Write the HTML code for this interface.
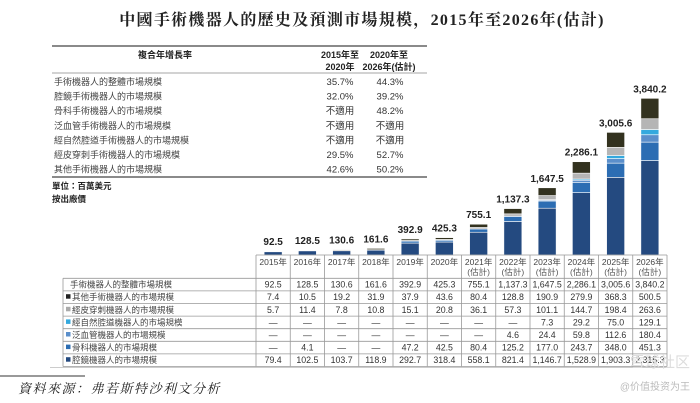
<!DOCTYPE html>
<html><head><meta charset="utf-8">
<style>
body{margin:0;background:#fff;}
svg{display:block;font-family:"Liberation Sans","Noto Sans CJK TC",sans-serif;}
</style></head>
<body>
<svg width="700" height="403" viewBox="0 0 700 403" xmlns="http://www.w3.org/2000/svg">
<text x="362" y="25" text-anchor="middle" font-family="'Liberation Serif','Noto Serif CJK SC',serif" font-weight="bold" font-size="16" letter-spacing="1.3" fill="#222">中國手術機器人的歷史及預測市場規模，2015年至2026年(估計)</text>
<g id="cagr"></g>
<g id="bars"></g>
<g id="tbl"></g>
<line x1="0" y1="376" x2="85" y2="376" stroke="#333" stroke-width="1"/>
<text x="18" y="393" font-family="'Liberation Serif','Noto Serif CJK SC',serif" font-style="italic" font-size="13" letter-spacing="1.5" fill="#222">資料來源：弗若斯特沙利文分析</text>
<text x="690" y="367" text-anchor="end" font-size="15" fill="#ddd">雪球社区</text>
<text x="690" y="390" text-anchor="end" font-size="10" fill="#bbb">@价值投资为王</text>
</svg>
<script>
const years=["2015年","2016年","2017年","2018年","2019年","2020年","2021年","2022年","2023年","2024年","2025年","2026年"];
const estimated=[0,0,0,0,0,0,1,1,1,1,1,1];
const totals=[92.5,128.5,130.6,161.6,392.9,425.3,755.1,1137.3,1647.5,2286.1,3005.6,3840.2];
const laparoscopic=[79.4,102.5,103.7,118.9,292.7,318.4,558.1,821.4,1146.7,1528.9,1903.3,2315.3];
const orthopedic=[null,4.1,null,null,47.2,42.5,80.4,125.2,177.0,243.7,348.0,451.3];
const vascular=[null,null,null,null,null,null,null,4.6,24.4,59.8,112.6,180.4];
const natural=[null,null,null,null,null,null,null,null,7.3,29.2,75.0,129.1];
const percutaneous=[5.7,11.4,7.8,10.8,15.1,20.8,36.1,57.3,101.1,144.7,198.4,263.6];
const others=[7.4,10.5,19.2,31.9,37.9,43.6,80.4,128.8,190.9,279.9,368.3,500.5];
const cagrRows=["手術機器人的整體市場規模","腔鏡手術機器人的市場規模","骨科手術機器人的市場規模","泛血管手術機器人的市場規模","經自然腔道手術機器人的市場規模","經皮穿刺手術機器人的市場規模","其他手術機器人的市場規模"];
const cagr1=["35.7%","32.0%","不適用","不適用","不適用","29.5%","42.6%"];
const cagr2=["44.3%","39.2%","48.2%","不適用","不適用","52.7%","50.2%"];

const NS="http://www.w3.org/2000/svg";
function mk(p,t,a,txt){const e=document.createElementNS(NS,t);for(const k in a)e.setAttribute(k,a[k]);if(txt!=null)e.textContent=txt;p.appendChild(e);return e;}
const X0=256,CW=34.25,BASE=255,K=0.0408,BW=18;
const xc=i=>X0+CW*(i+0.5);
const yv=v=>BASE-v*K;

// CAGR table
const cg=document.getElementById('cagr');
mk(cg,'line',{x1:52,y1:46,x2:427,y2:46,stroke:'#444','stroke-width':1.3});
mk(cg,'line',{x1:52,y1:73,x2:427,y2:73,stroke:'#888','stroke-width':0.8});
mk(cg,'line',{x1:52,y1:177,x2:427,y2:177,stroke:'#444','stroke-width':1.3});
let h=mk(cg,'text',{x:165,y:58,'text-anchor':'middle','font-size':9,'font-weight':'bold',fill:'#222'},'複合年增長率');


mk(cg,'text',{x:340,y:58,'text-anchor':'middle','font-size':9,'font-weight':'bold',fill:'#222'},'2015年至');
mk(cg,'text',{x:340,y:70,'text-anchor':'middle','font-size':9,'font-weight':'bold',fill:'#222'},'2020年');
mk(cg,'text',{x:389,y:58,'text-anchor':'middle','font-size':9,'font-weight':'bold',fill:'#222'},'2020年至');
mk(cg,'text',{x:389,y:70,'text-anchor':'middle','font-size':9,'font-weight':'bold',fill:'#222'},'2026年(估計)');
cagrRows.forEach((r,i)=>{const y=85+i*14.6;
 const t=mk(cg,'text',{x:54,y:y,'font-size':9,fill:'#444'},r);
 
 
 mk(cg,'text',{x:340,y:y,'text-anchor':'middle','font-size':9.5,fill:'#333'},cagr1[i]);
 mk(cg,'text',{x:390,y:y,'text-anchor':'middle','font-size':9.5,fill:'#333'},cagr2[i]);
});
mk(cg,'text',{x:52,y:189,'font-size':8.5,'font-weight':'bold',fill:'#222'},'單位：百萬美元');
mk(cg,'text',{x:52,y:202,'font-size':8.5,'font-weight':'bold',fill:'#222'},'按出廠價');

// bars
const series=[laparoscopic,orthopedic,vascular,natural,percutaneous,others];
const colors=["#244a80","#2c6db3","#5b8fcb","#34a9de","#b5b5b5","#33321f"];
const names=["bar-laparoscopic","bar-orthopedic","bar-vascular","bar-natural-orifice","bar-percutaneous","bar-others"];
const bg=document.getElementById('bars');
years.forEach((y,i)=>{let acc=0;
 series.forEach((s,j)=>{const v=s[i]||0;if(!v)return;
  const r=mk(bg,'rect',{x:xc(i)-BW/2,y:yv(acc+v),width:BW,height:v*K,fill:colors[j],stroke:'#fff','stroke-width':0.6});
  
  
  acc+=v;});
 const t=mk(bg,'text',{x:xc(i),y:yv(totals[i])-6,'text-anchor':'middle','font-size':10,'font-weight':'bold',fill:'#222'},totals[i].toLocaleString('en-US',{minimumFractionDigits:1}));
 
 
});

// data table
const tg=document.getElementById('tbl');
const TOP=255,HB=278.3,RH=12.6,L=63,R=X0+CW*12;
const rowLabels=["手術機器人的整體市場規模","其他手術機器人的市場規模","經皮穿刺機器人的市場規模","經自然腔道機器人的市場規模","泛血管機器人的市場規模","骨科機器人的市場規模","腔鏡機器人的市場規模"];
const rowData=[totals,others,percutaneous,natural,vascular,orthopedic,laparoscopic];
const rowSw=[null,"#222","#aaa","#34a9de","#5b8fcb","#2c6db3","#244a80"];
const B=HB+RH*7;
for(let i=0;i<=12;i++) mk(tg,'line',{x1:X0+CW*i,y1:TOP,x2:X0+CW*i,y2:B,stroke:'#999','stroke-width':0.8});
mk(tg,'line',{x1:L,y1:HB,x2:L,y2:B,stroke:'#999','stroke-width':0.8});
for(let r=0;r<=7;r++) mk(tg,'line',{x1:L,y1:HB+RH*r,x2:R,y2:HB+RH*r,stroke:'#999','stroke-width':0.8});
mk(tg,'line',{x1:X0,y1:TOP,x2:R,y2:TOP,stroke:'#999','stroke-width':0.8});
mk(tg,'line',{x1:50,y1:B+1,x2:R,y2:B+1,stroke:'#bbb','stroke-width':0.8});
years.forEach((y,i)=>{
 const t=mk(tg,'text',{x:xc(i),y:265,'text-anchor':'middle','font-size':8.5,fill:'#444'},y);
 
 
 if(estimated[i]) mk(tg,'text',{x:xc(i),y:275,'text-anchor':'middle','font-size':8.5,fill:'#555'},'(估計)');
});
rowLabels.forEach((lab,r)=>{const y=HB+RH*r+9.3;
 if(rowSw[r]) mk(tg,'rect',{x:66,y:y-6,width:4.5,height:4.5,fill:rowSw[r]});
 const t=mk(tg,'text',{x:rowSw[r]?72:70,y:y,'font-size':8.5,fill:'#444'},lab);
 
 
 rowData[r].forEach((v,i)=>{
  const c=mk(tg,'text',{x:xc(i),y:y,'text-anchor':'middle','font-size':8.8,fill:'#333'},v==null?'—':v.toLocaleString('en-US',{minimumFractionDigits:1}));
  
  
 });
});
</script>
</body></html>
